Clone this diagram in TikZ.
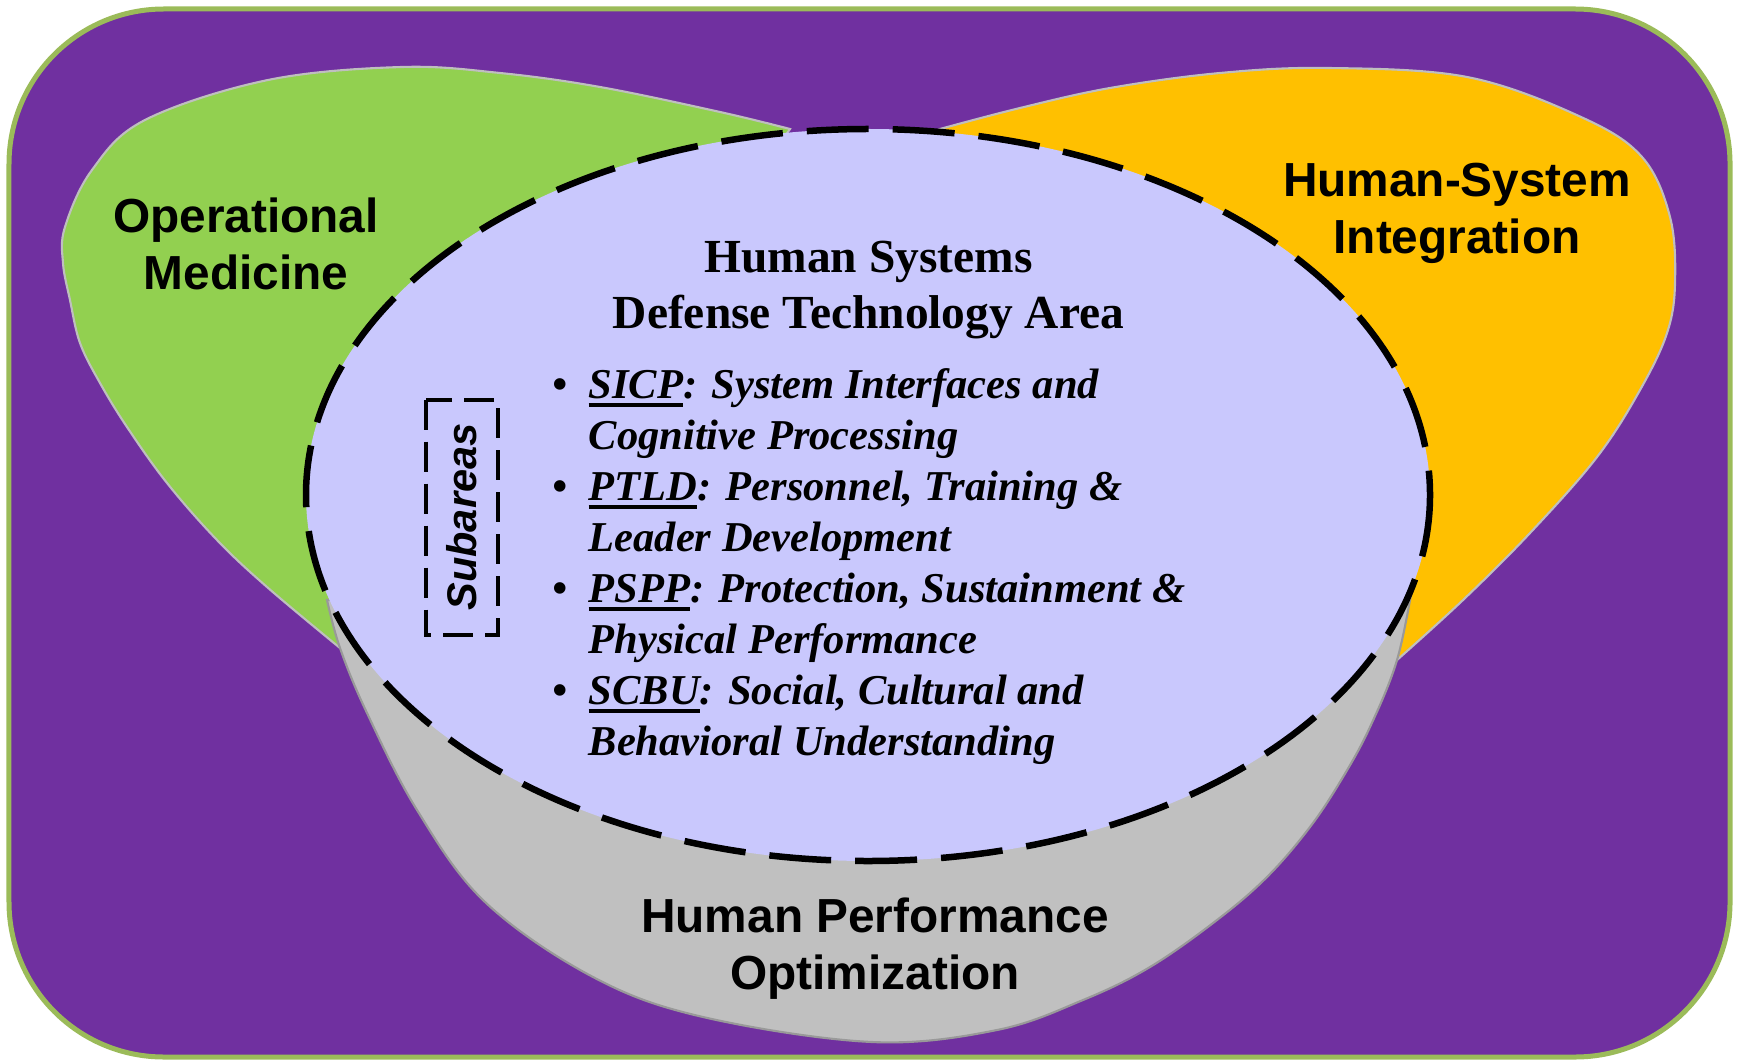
\documentclass[tikz,border=0pt]{standalone}
\usepackage{fontspec}
\setmainfont{Liberation Serif}
\setsansfont{Liberation Sans}
\usetikzlibrary{positioning}

\definecolor{dtapurple}{HTML}{7030A0}
\definecolor{omgreen}{HTML}{92D050}
\definecolor{hsiorange}{HTML}{FFC000}
\definecolor{hpogray}{HTML}{C0C0C0}
\definecolor{dtablue}{HTML}{C9C8FD}
\definecolor{framegreen}{HTML}{9BBB59}

\newsavebox{\abbrbox}
\newcommand{\abbr}[1]{\sbox{\abbrbox}{#1}\rlap{\rule[-0.2em]{\wd\abbrbox}{1.1pt}}\usebox{\abbrbox}}

\begin{document}
\begin{tikzpicture}[x=1cm, y=-1cm]
\tikzset{ blob/.style={draw=black!25, line width=0.6pt},
  area/.style={font=\sffamily\bfseries\fontsize{13.6}{16.2}\selectfont, align=center, inner sep=0pt},
  dtatitle/.style={font=\bfseries\fontsize{13.5}{15.9}\selectfont, align=center, inner sep=0pt},
  itemlist/.style={font=\bfseries\itshape\fontsize{12.1}{14.5}\selectfont, align=left, inner sep=0pt},
  subbox/.style={draw, line width=0.04cm, dash pattern=on 0.30cm off 0.12cm, minimum width=2.35cm, minimum height=0.72cm, inner sep=0pt,
                 font=\sffamily\bfseries\itshape\fontsize{11.8}{14}\selectfont},
}

%\draw [lightgray, dashed](0,0) grid (17,10);
\useasboundingbox (0,0) rectangle (17.39,10.60);

\draw [fill=dtapurple, draw=framegreen, line width=0.05cm, rounded corners=1.55cm] (0.09,0.09) rectangle (17.30,10.57);

% Operational Medicine
\draw [blob, fill=omgreen] plot [smooth, tension=0.6] coordinates {(7.90,1.29) (7.20,1.12) (6.00,0.87) (5.00,0.73) (4.02,0.67) (2.68,0.80) (1.45,1.20) (0.92,1.70) (0.65,2.27) (0.63,2.63) (0.70,3.00) (0.80,3.43) (1.00,3.83) (1.27,4.27) (1.67,4.83) (2.17,5.40) (2.67,5.87) (3.40,6.48)} -- (4.00,6.90) -- cycle;

% Human-System Integration
\draw [blob, fill=hsiorange] plot [smooth, tension=0.6] coordinates {(9.40,1.29) (10.20,1.08) (11.10,0.88) (12.20,0.73) (13.28,0.68) (14.67,0.77) (15.81,1.17) (16.42,1.57) (16.70,2.17) (16.75,2.83) (16.67,3.33) (16.40,3.90) (15.97,4.57) (15.30,5.33) (14.63,6.00) (13.97,6.60)} -- (13.40,6.90) -- cycle;

% Human Performance Optimization
\draw [blob, draw=black!40, fill=hpogray] plot [smooth, tension=0.6] coordinates {(3.27,6.00) (3.40,6.48) (3.67,7.13) (4.17,8.10) (4.85,9.02) (5.93,9.77) (7.03,10.17) (8.72,10.42) (9.97,10.30) (10.83,10.00) (11.50,9.67) (12.17,9.20) (12.67,8.77) (13.10,8.27) (13.43,7.77) (13.70,7.27) (13.97,6.60) (14.13,5.83)} -- cycle;

% Defense Technology Area
\draw [fill=dtablue, line width=0.065cm, dash pattern=on 0.62cm off 0.24cm] (8.68,4.95) ellipse [x radius=5.62, y radius=3.66];

\node [area] (om)  at (2.46,2.44) {Operational\\Medicine};
\node [area] (hsi) at (14.57,2.13) {Human-System\\Integration};
\node [area] (hpo) at (8.75,9.49) {Human Performance\\Optimization};

\node [dtatitle] (dta) at (8.685,2.90) {Human Systems\\Defense Technology Area};

\node [subbox, rotate=90] (sub) at (4.62,5.17) {Subareas};

\node [itemlist, anchor=north west] (list) at (5.88,3.68) {%
\llap{\textbullet\hspace{0.5em}}\abbr{SICP}: System Interfaces and\\
Cognitive Processing\\
\llap{\textbullet\hspace{0.5em}}\abbr{PTLD}: Personnel, Training \&\\
Leader Development\\
\llap{\textbullet\hspace{0.5em}}\abbr{PSPP}: Protection, Sustainment \&\\
Physical Performance\\
\llap{\textbullet\hspace{0.5em}}\abbr{SCBU}: Social, Cultural and\\
Behavioral Understanding};

\end{tikzpicture}
\end{document}
